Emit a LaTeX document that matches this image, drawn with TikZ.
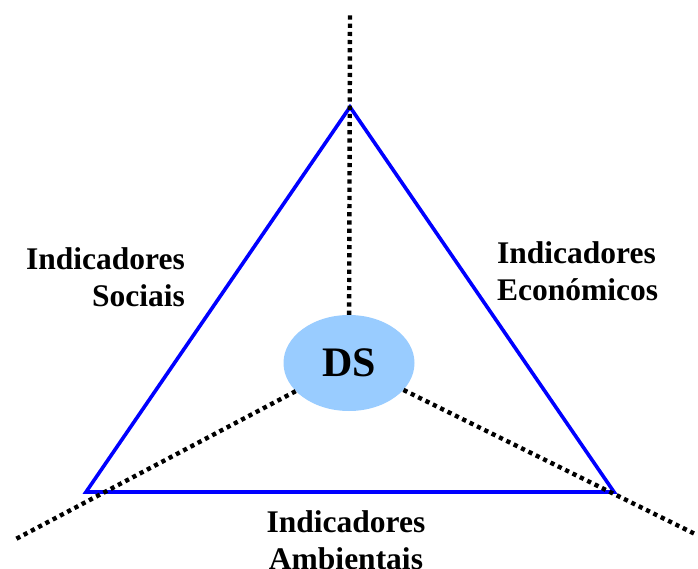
\documentclass[tikz,border=0pt]{standalone}
\usepackage{fontspec}
\setmainfont{Liberation Serif}
\usetikzlibrary{shapes.geometric}

\definecolor{dsblue}{RGB}{153,204,255}
\definecolor{pillar}{RGB}{0,0,255}

\tikzset{
  pillarline/.style={draw=pillar, line width=3.6pt},
  axisline/.style={line width=4.4pt, dash pattern=on 4.2pt off 4pt},
  label/.style={inner sep=0pt, font=\fontsize{31.5}{37}\selectfont\bfseries},
}

\begin{document}
\begin{tikzpicture}[x=1pt, y=-1pt]
\useasboundingbox (0,0) rectangle (698,569);

% triangle corners and free ends of the axes
\coordinate (apex) at (350,107);
\coordinate (left) at (86,492);
\coordinate (right) at (614,492);
\coordinate (topend) at (350,12);
\coordinate (leftend) at (14,540);
\coordinate (rightend) at (697,535);

% the three pillars
\draw[pillarline] (apex) -- (left) -- (right) -- cycle;

% centre
\node[ellipse, fill=dsblue, minimum width=131pt, minimum height=96pt,
      inner sep=0pt, font=\fontsize{42}{42}\selectfont\bfseries]
  (ds) at (349,363) {DS};

% axes from the centre outwards
\draw[axisline] (ds) -- (topend);
\draw[axisline] (ds) -- (leftend);
\draw[axisline] (ds) -- (rightend);

% labels
\node[label, anchor=north east, align=right] (soc) at (185,247)
  {Indicadores\\Sociais};
\node[label, anchor=north west, align=left] (eco) at (497,241)
  {Indicadores\\Económicos};
\node[label, anchor=north, align=center] (amb) at (346,510)
  {Indicadores\\Ambientais};

\end{tikzpicture}
\end{document}
